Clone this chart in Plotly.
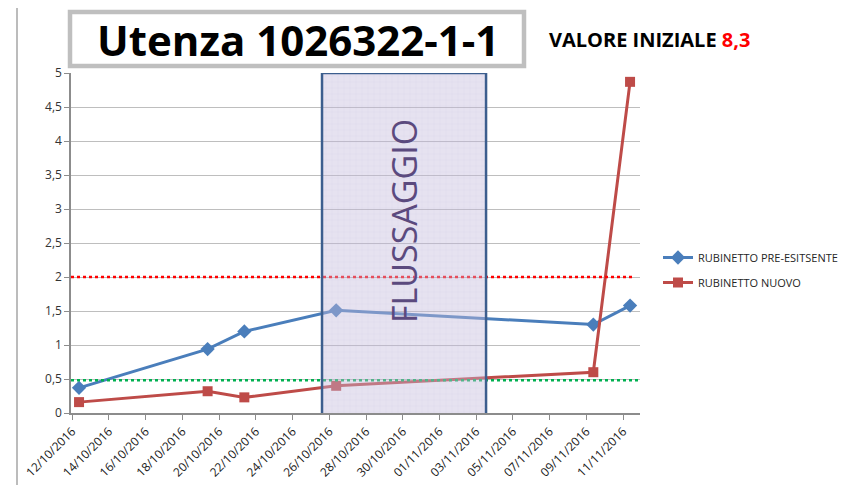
import plotly.graph_objects as go
from datetime import datetime, timedelta

# ---- data ----
dates = ["2016-10-12", "2016-10-19", "2016-10-21", "2016-10-26", "2016-11-09", "2016-11-11"]
pre_esistente = [0.37, 0.94, 1.20, 1.51, 1.30, 1.58]
nuovo = [0.16, 0.32, 0.23, 0.40, 0.60, 4.87]
tick_labels = ["12/10/2016", "14/10/2016", "16/10/2016", "18/10/2016", "20/10/2016",
               "22/10/2016", "24/10/2016", "26/10/2016", "28/10/2016", "30/10/2016",
               "01/11/2016", "03/11/2016", "05/11/2016", "07/11/2016", "09/11/2016",
               "11/11/2016"]
limit_high = 2.0
limit_low = 0.48
flush_start = "2016-10-25 05:30"
flush_end = "2016-11-03 03:50"

# page body has an 8px margin: the figure starts at (8, 8) of the window
OFF = 8
WIN_W, WIN_H = 866, 485
W, H = WIN_W - OFF, WIN_H - OFF
L, R, T, B = 71, 640, 73, 413  # plot area in window pixels

def px2x(px):
    return (px - L) / (R - L)

def py2y(py):
    return (B - py) / (B - T)

tickvals = [datetime.strptime(t, "%d/%m/%Y") - timedelta(hours=9) for t in tick_labels]

BLUE = "#4A7EBB"
RED = "#BE4B48"

fs = datetime.strptime(flush_start, "%Y-%m-%d %H:%M")
fe = datetime.strptime(flush_end, "%Y-%m-%d %H:%M")
flush_mid = fs + (fe - fs) / 2
flush_width_ms = (fe - fs).total_seconds() * 1000

fig = go.Figure()

# light grid texture of the flushing box
fig.add_trace(go.Bar(
    x=[flush_mid], y=[5.0], width=[flush_width_ms], showlegend=False, hoverinfo="skip",
    marker=dict(color="rgba(0,0,0,0)", line=dict(width=0),
                pattern=dict(shape="+", fgcolor="rgba(150,135,190,0.35)", bgcolor="rgba(0,0,0,0)",
                             size=6, solidity=0.12))))

fig.add_trace(go.Scatter(
    x=dates, y=pre_esistente, mode="lines+markers", name="RUBINETTO PRE-ESITSENTE",
    line=dict(color=BLUE, width=3), marker=dict(symbol="diamond", size=11, color=BLUE),
    legendgroup="a"))
fig.add_trace(go.Scatter(
    x=dates, y=nuovo, mode="lines+markers", name="RUBINETTO NUOVO",
    line=dict(color=RED, width=3), marker=dict(symbol="square", size=10, color=RED),
    legendgroup="b"))

shapes = []
# reference lines
shapes.append(dict(type="line", xref="paper", yref="y", x0=0, x1=px2x(633), y0=limit_high, y1=limit_high,
                   line=dict(color="#FF0000", width=2.5, dash="dot"), layer="above"))
shapes.append(dict(type="line", xref="paper", yref="y", x0=0, x1=px2x(640), y0=limit_low, y1=limit_low,
                   line=dict(color="#00B050", width=2.5, dash="dot"), layer="above"))
# flushing box
shapes.append(dict(type="rect", xref="x", yref="y", x0=flush_start, x1=flush_end, y0=-0.03, y1=5.0,
                   fillcolor="rgba(196,186,220,0.42)", line=dict(color="#3C5E8E", width=2.5), layer="above"))
# outer frame
shapes.append(dict(type="rect", xref="paper", yref="paper", x0=px2x(17), x1=px2x(862), y0=py2y(495), y1=py2y(6),
                   line=dict(color="#A6A6A6", width=1.5), fillcolor="rgba(0,0,0,0)", layer="below"))
# title box
shapes.append(dict(type="rect", xref="paper", yref="paper", x0=px2x(70), x1=px2x(524), y0=py2y(66), y1=py2y(12),
                   line=dict(color="#BFBFBF", width=4.5), fillcolor="white", layer="above"))

annotations = [
    dict(text="<b>Utenza 1026322-1-1</b>", xref="paper", yref="paper", x=px2x(298), y=py2y(40),
         xanchor="center", yanchor="middle", showarrow=False,
         font=dict(family="Open Sans", size=42, color="black")),
    dict(text="<b>VALORE INIZIALE <span style='color:#FF0000'>8,3</span></b>", xref="paper", yref="paper",
         x=px2x(547), y=py2y(40), xanchor="left", yanchor="middle", showarrow=False,
         font=dict(family="Open Sans", size=20, color="black")),
    dict(text="FLUSSAGGIO", xref="paper", yref="paper", x=px2x(404), y=py2y(221),
         xanchor="center", yanchor="middle", showarrow=False, textangle=-90,
         font=dict(family="Open Sans", size=34, color="#5B4A7E")),
]

fig.update_layout(
    width=W, height=H,
    margin=dict(l=L - OFF, r=WIN_W - R, t=T - OFF, b=WIN_H - B, autoexpand=False),
    paper_bgcolor="white", plot_bgcolor="white",
    separators=",.",
    shapes=shapes, annotations=annotations,
    showlegend=True,
    legend=dict(x=px2x(658), y=py2y(243), xanchor="left", yanchor="top",
                font=dict(family="Open Sans", size=11, color="#262626"),
                bgcolor="rgba(0,0,0,0)", traceorder="grouped", tracegroupgap=6,
                itemwidth=30),
    xaxis=dict(
        type="date", automargin=False,
        range=["2016-10-11 13:30", "2016-11-11 13:00"],
        tickmode="array", tickvals=tickvals, ticktext=tick_labels,
        tickangle=-45, ticks="outside", ticklen=5, tickcolor="#8C8C8C",
        showline=True, linecolor="#8C8C8C", linewidth=1.5,
        showgrid=False, zeroline=False,
        tickfont=dict(family="Open Sans", size=12, color="#1A1A1A"),
    ),
    yaxis=dict(
        range=[0, 5], dtick=0.5, tickformat=".1~f", automargin=False,
        ticks="outside", ticklen=5, tickcolor="#8C8C8C",
        showline=True, linecolor="#8C8C8C", linewidth=1.5,
        showgrid=True, gridcolor="#BEBEBE", gridwidth=1.3,
        zeroline=False,
        tickfont=dict(family="Open Sans", size=12, color="#333333"),
    ),
)

fig.write_html("out.html")
